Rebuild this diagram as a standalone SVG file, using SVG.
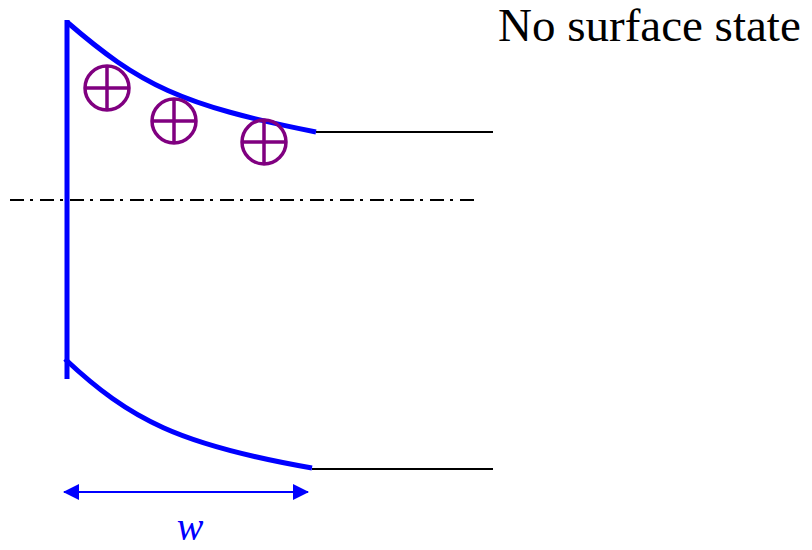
<svg xmlns="http://www.w3.org/2000/svg" width="812" height="550" viewBox="0 0 812 550">
<defs>
<style>
.band{fill:none;stroke:#0000ff;stroke-width:5;}
.lvl{fill:none;stroke:#000;stroke-width:2;}
.ion{fill:none;stroke:#800080;stroke-width:3.5;}
</style>
<marker id="ah" viewBox="0 0 16 16" refX="15" refY="8" markerWidth="16" markerHeight="16" markerUnits="userSpaceOnUse" orient="auto-start-reverse">
<path d="M0,0 L16,8 L0,16 Z" fill="#0000ff"/>
</marker>
<g id="ionSym"><circle cx="0" cy="0" r="22" class="ion"/><path d="M-22,0 H22 M0,-22 V22" class="ion"/></g>
</defs>
<rect width="812" height="550" fill="#fff"/>
<g id="fermi"><line x1="10" y1="200" x2="478" y2="200" stroke="#000" stroke-width="2" stroke-dasharray="14,6,3,7"/></g>
<g id="surface"><line x1="67" y1="20" x2="67" y2="379" class="band"/></g>
<g id="cb"><path d="M67,22 C140,85 180,105 316,132" class="band"/><line x1="316" y1="132" x2="493" y2="132" class="lvl"/></g>
<g id="vb"><path d="M65,359 C130,420 180,445 312,468" class="band"/><line x1="312" y1="469" x2="493" y2="469" class="lvl"/></g>
<g id="ions">
<use href="#ionSym" x="107" y="88"/>
<use href="#ionSym" x="174" y="121"/>
<use href="#ionSym" x="264" y="142"/>
</g>
<g id="connectors"><line x1="64" y1="492" x2="308" y2="492" stroke="#0000ff" stroke-width="2" marker-start="url(#ah)" marker-end="url(#ah)"/></g>
<g id="labels">
<text x="498" y="41" font-family="'Liberation Serif', 'Times New Roman', serif" font-size="47">No surface state</text>
<text x="190" y="540" font-family="'Liberation Serif', 'Times New Roman', serif" font-size="40" font-style="italic" fill="#0000ff" text-anchor="middle">w</text>
</g>
</svg>
